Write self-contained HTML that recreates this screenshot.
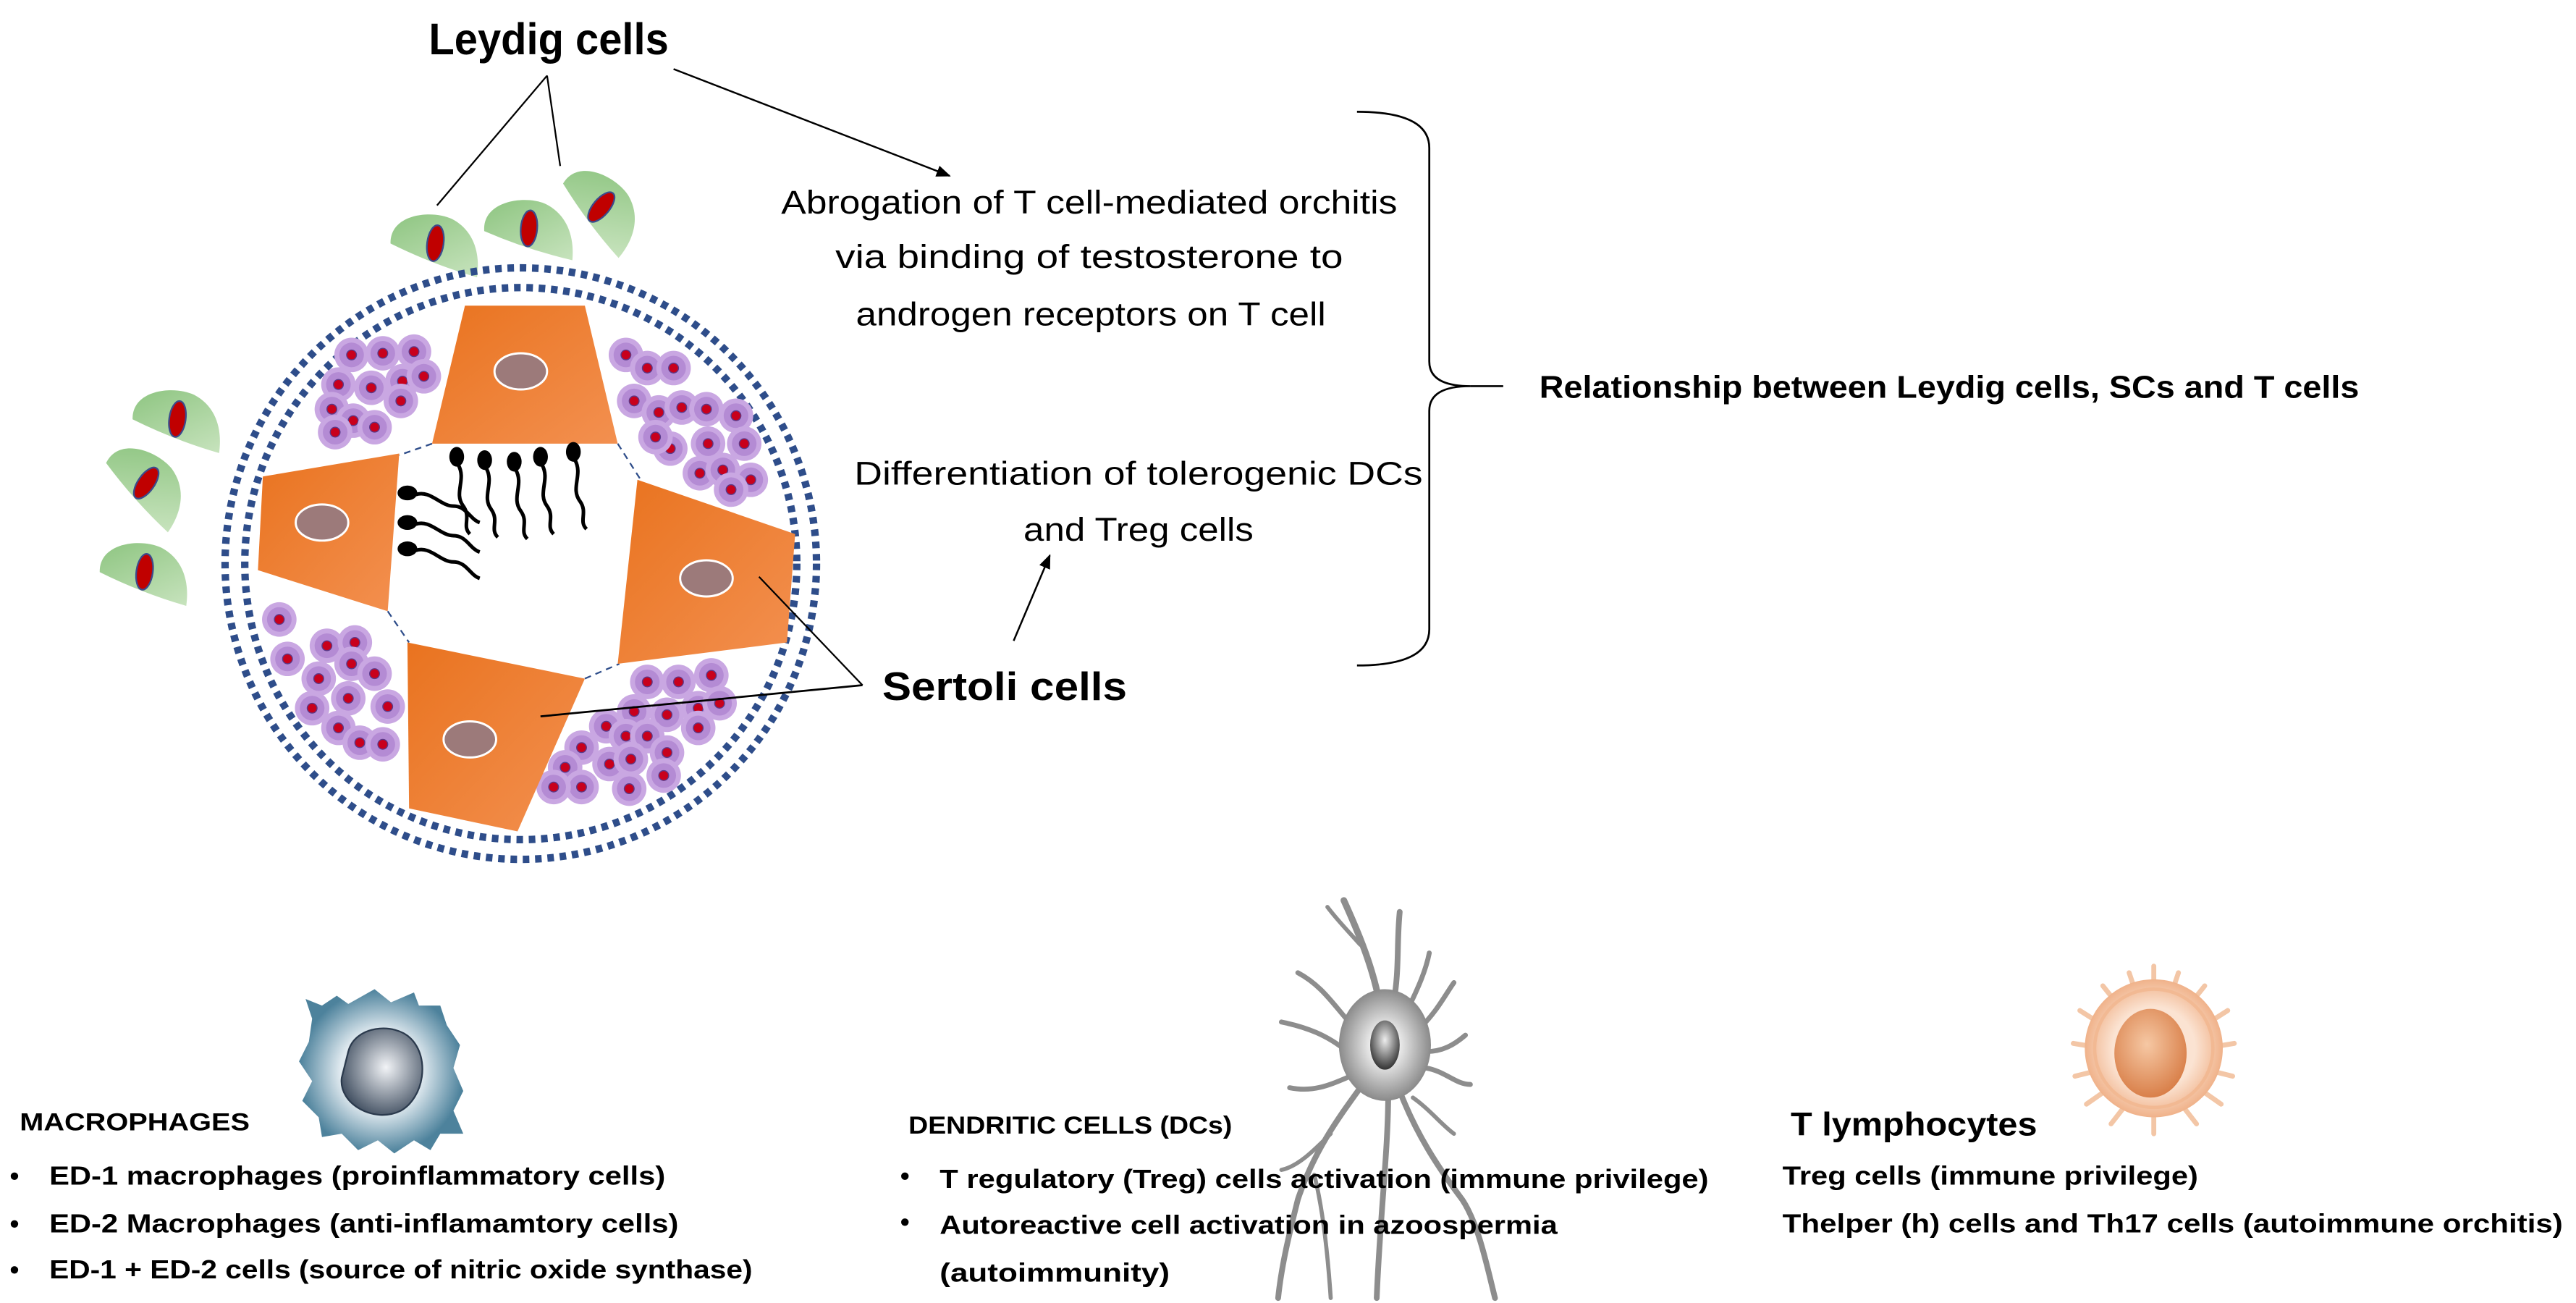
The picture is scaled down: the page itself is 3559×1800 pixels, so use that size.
<!DOCTYPE html>
<html><head><meta charset="utf-8"><style>
html,body{margin:0;padding:0;background:#fff;}
svg{display:block;}
text{font-family:"Liberation Sans",sans-serif;fill:#000;}
</style></head><body>
<svg width="3559" height="1800" viewBox="0 0 1568 793" xmlns="http://www.w3.org/2000/svg">
<defs>
<linearGradient id="org" x1="0" y1="0" x2="1" y2="1"><stop offset="0" stop-color="#e9731f"/><stop offset="1" stop-color="#f39050"/></linearGradient>
<linearGradient id="grn" x1="0" y1="0" x2="1" y2="1"><stop offset="0" stop-color="#8cc47f"/><stop offset="1" stop-color="#c7e3bd"/></linearGradient>
<radialGradient id="mac" cx="0.5" cy="0.5" r="0.5"><stop offset="0.5" stop-color="#dfe9ef"/><stop offset="1" stop-color="#4d829c"/></radialGradient>
<radialGradient id="macn" cx="0.55" cy="0.45" r="0.6"><stop offset="0" stop-color="#f2f4f7"/><stop offset="1" stop-color="#3f4d5f"/></radialGradient>
<radialGradient id="dc" cx="0.5" cy="0.5" r="0.5"><stop offset="0.3" stop-color="#eeeeee"/><stop offset="1" stop-color="#8a8a8a"/></radialGradient>
<radialGradient id="dcn" cx="0.5" cy="0.4" r="0.6"><stop offset="0" stop-color="#eeeeee"/><stop offset="1" stop-color="#333"/></radialGradient>
<radialGradient id="tc" cx="0.5" cy="0.5" r="0.5"><stop offset="0.6" stop-color="#fbe3d2"/><stop offset="1" stop-color="#f0b28a"/></radialGradient>
<radialGradient id="tcn" cx="0.45" cy="0.4" r="0.6"><stop offset="0" stop-color="#f6c8a4"/><stop offset="1" stop-color="#d9804a"/></radialGradient>
<marker id="ar" viewBox="0 0 10 10" refX="9" refY="5" markerWidth="8" markerHeight="8" orient="auto"><path d="M0,1 L10,5 L0,9 Z" fill="#000"/></marker>
<g id="ley"><path d="M-27,4 C-30,-14 -5,-20 8,-16 C22,-11 28,2 28,17 Q0,13 -27,4 Z" fill="url(#grn)"/><ellipse cx="0" cy="0" rx="5" ry="11" fill="#c00000" stroke="#3b4b8c" stroke-width="1"/></g>
<g id="pc"><circle r="10.5" fill="#c9a7e2"/><circle r="7.5" fill="#b48bd4"/><circle r="3" fill="#c8001c" stroke="#5a3a8a" stroke-width="0.6"/></g>
<g id="sp"><ellipse cx="0" cy="0" rx="4.5" ry="6" fill="#000"/><path d="M1,5 C6,14 -2,22 4,30 C9,37 3,42 8,47" fill="none" stroke="#000" stroke-width="2.2"/></g>
<g id="sp2"><ellipse cx="0" cy="0" rx="6" ry="4.5" fill="#000"/><path d="M5,1 C14,-2 20,8 28,8 C36,8 38,16 44,18" fill="none" stroke="#000" stroke-width="2.2"/></g>
</defs>

<text x="261" y="33" font-weight="bold" font-size="27" textLength="146" lengthAdjust="spacingAndGlyphs">Leydig cells</text>
<line x1="333" y1="46" x2="266" y2="125" stroke="#000" stroke-width="1"/>
<line x1="333" y1="46" x2="341" y2="101" stroke="#000" stroke-width="1"/>
<line x1="410" y1="42" x2="578" y2="107" stroke="#000" stroke-width="1.1" marker-end="url(#ar)"/>

<use href="#ley" transform="translate(265,148) rotate(8)"/>
<use href="#ley" transform="translate(322,139) rotate(5)"/>
<use href="#ley" transform="translate(366,126) rotate(40)"/>
<use href="#ley" transform="translate(108,255) rotate(8)"/>
<use href="#ley" transform="translate(89,294) rotate(35)"/>
<use href="#ley" transform="translate(88,348) rotate(8)"/>

<circle cx="317" cy="343" r="180" fill="none" stroke="#2e4d8a" stroke-width="4.5" stroke-dasharray="4 3.5"/>
<circle cx="317" cy="343" r="168" fill="none" stroke="#2e4d8a" stroke-width="4.5" stroke-dasharray="4 3.5"/>

<g>
<use href="#pc" x="214" y="216"/><use href="#pc" x="233" y="215"/><use href="#pc" x="252" y="214"/><use href="#pc" x="206" y="234"/><use href="#pc" x="226" y="236"/><use href="#pc" x="245" y="232"/><use href="#pc" x="258" y="229"/><use href="#pc" x="202" y="249"/><use href="#pc" x="215" y="256"/><use href="#pc" x="228" y="260"/><use href="#pc" x="244" y="244"/><use href="#pc" x="204" y="263"/>
<use href="#pc" x="381" y="216"/><use href="#pc" x="394" y="224"/><use href="#pc" x="410" y="224"/><use href="#pc" x="386" y="244"/><use href="#pc" x="401" y="251"/><use href="#pc" x="415" y="248"/><use href="#pc" x="430" y="249"/><use href="#pc" x="448" y="253"/><use href="#pc" x="408" y="273"/><use href="#pc" x="431" y="270"/><use href="#pc" x="453" y="270"/><use href="#pc" x="426" y="288"/><use href="#pc" x="440" y="286"/><use href="#pc" x="457" y="292"/><use href="#pc" x="445" y="298"/><use href="#pc" x="399" y="266"/>
<use href="#pc" x="170" y="377"/><use href="#pc" x="175" y="401"/><use href="#pc" x="199" y="393"/><use href="#pc" x="216" y="391"/><use href="#pc" x="194" y="413"/><use href="#pc" x="214" y="404"/><use href="#pc" x="228" y="410"/><use href="#pc" x="190" y="431"/><use href="#pc" x="212" y="425"/><use href="#pc" x="236" y="430"/><use href="#pc" x="206" y="443"/><use href="#pc" x="219" y="452"/><use href="#pc" x="233" y="453"/>
<use href="#pc" x="394" y="415"/><use href="#pc" x="413" y="415"/><use href="#pc" x="433" y="411"/><use href="#pc" x="386" y="433"/><use href="#pc" x="406" y="435"/><use href="#pc" x="425" y="431"/><use href="#pc" x="438" y="428"/><use href="#pc" x="369" y="442"/><use href="#pc" x="381" y="448"/><use href="#pc" x="394" y="448"/><use href="#pc" x="425" y="443"/><use href="#pc" x="354" y="455"/><use href="#pc" x="371" y="465"/><use href="#pc" x="384" y="462"/><use href="#pc" x="406" y="458"/><use href="#pc" x="344" y="467"/><use href="#pc" x="354" y="479"/><use href="#pc" x="383" y="480"/><use href="#pc" x="404" y="472"/><use href="#pc" x="337" y="479"/>
</g>

<g stroke="#2e4d8a" stroke-width="1" stroke-dasharray="4 3" fill="none">
<line x1="263" y1="270" x2="243" y2="277"/>
<line x1="376" y1="270" x2="390" y2="292"/>
<line x1="236" y1="372" x2="249" y2="391"/>
<line x1="356" y1="413" x2="377" y2="404"/>
</g>

<polygon points="283,186 356,186 376,270 263,270" fill="url(#org)"/>
<polygon points="160,290 243,276 236,372 157,347" fill="url(#org)"/>
<polygon points="388,292 484,325 479,391 376,404" fill="url(#org)"/>
<polygon points="248,391 356,413 315,506 249,492" fill="url(#org)"/>
<g fill="#9c7a7a" stroke="#fff" stroke-width="1.3">
<ellipse cx="317" cy="226" rx="16" ry="11"/>
<ellipse cx="196" cy="318" rx="16" ry="11"/>
<ellipse cx="430" cy="352" rx="16" ry="11"/>
<ellipse cx="286" cy="450" rx="16" ry="11"/>
</g>

<use href="#sp" x="278" y="278"/><use href="#sp" x="295" y="280"/><use href="#sp" x="313" y="281"/><use href="#sp" x="329" y="278"/><use href="#sp" x="349" y="275"/>
<use href="#sp2" x="248" y="300"/><use href="#sp2" x="248" y="318"/><use href="#sp2" x="248" y="334"/>

<line x1="525" y1="417" x2="462" y2="351" stroke="#000" stroke-width="1"/>
<line x1="525" y1="417" x2="329" y2="436" stroke="#000" stroke-width="1.2"/>
<text x="537" y="426" font-weight="bold" font-size="24" textLength="149" lengthAdjust="spacingAndGlyphs">Sertoli cells</text>

<g font-size="20" text-anchor="middle">
<text x="663" y="130" textLength="375" lengthAdjust="spacingAndGlyphs">Abrogation of T cell-mediated orchitis</text>
<text x="663" y="163" textLength="309" lengthAdjust="spacingAndGlyphs">via binding of testosterone to</text>
<text x="664" y="198" textLength="286" lengthAdjust="spacingAndGlyphs">androgen receptors on T cell</text>
<text x="693" y="295" textLength="346" lengthAdjust="spacingAndGlyphs">Differentiation of tolerogenic DCs</text>
<text x="693" y="329" textLength="140" lengthAdjust="spacingAndGlyphs">and Treg cells</text>
</g>
<line x1="617" y1="390" x2="639" y2="338" stroke="#000" stroke-width="1.1" marker-end="url(#ar)"/>

<path d="M826,68 Q870,68 870,90 L870,220 Q870,235 895,235 Q870,235 870,250 L870,383 Q870,405 826,405" fill="none" stroke="#000" stroke-width="1.2"/>
<line x1="895" y1="235" x2="915" y2="235" stroke="#000" stroke-width="1.2"/>
<text x="937" y="242" font-weight="bold" font-size="19" textLength="499" lengthAdjust="spacingAndGlyphs">Relationship between Leydig cells, SCs and T cells</text>

<path d="M190,620 L186,608 L196,612 L205,606 L212,611 L228,602 L238,610 L252,604 L255,612 L268,612 L272,624 L280,636 L276,650 L282,664 L276,676 L282,690 L268,690 L262,700 L252,694 L240,702 L230,694 L218,700 L208,690 L196,692 L194,680 L184,670 L190,658 L182,646 L188,634 Z" fill="url(#mac)"/>
<path d="M212,640 C216,624 240,622 250,632 C262,644 258,668 244,676 C228,684 206,672 208,656 Z" fill="url(#macn)" stroke="#2b3a4d" stroke-width="1"/>

<g stroke="#8d8d8d" fill="none" stroke-linecap="round">
<path d="M840,612 C836,590 828,570 818,548" stroke-width="4"/>
<path d="M828,575 C820,566 814,560 808,552" stroke-width="2.5"/>
<path d="M848,612 C852,590 850,575 852,555" stroke-width="3.5"/>
<path d="M855,618 C864,600 868,590 870,580" stroke-width="3"/>
<path d="M865,625 C875,615 880,605 885,598" stroke-width="3"/>
<path d="M823,624 C812,612 805,600 790,592" stroke-width="3"/>
<path d="M820,640 C808,630 795,625 780,622" stroke-width="3"/>
<path d="M868,640 C878,640 885,636 892,630" stroke-width="3"/>
<path d="M868,650 C880,652 886,660 895,660" stroke-width="3"/>
<path d="M822,655 C810,660 800,665 785,662" stroke-width="3"/>
<path d="M828,662 C815,680 800,700 790,730 C785,750 780,770 778,790" stroke-width="3.5"/>
<path d="M810,690 C800,700 790,710 780,712" stroke-width="2.5"/>
<path d="M800,715 C805,735 808,760 810,790" stroke-width="2.5"/>
<path d="M845,666 C845,700 840,740 838,790" stroke-width="3.5"/>
<path d="M852,664 C862,690 875,710 890,730 C900,745 905,770 910,790" stroke-width="3.5"/>
<path d="M860,668 C870,675 878,685 885,690" stroke-width="2.5"/>
</g>
<ellipse cx="843" cy="636" rx="28" ry="34" fill="url(#dc)"/>
<ellipse cx="843" cy="636" rx="9" ry="15" fill="url(#dcn)"/>

<g stroke="#f3c6a6" stroke-width="3" fill="none" stroke-linecap="round">
<path d="M1311,588 L1311,600 M1296,592 L1300,604 M1326,592 L1322,604 M1280,600 L1288,610 M1342,600 L1334,610 M1266,615 L1277,622 M1356,615 L1345,622 M1262,635 L1274,637 M1360,635 L1348,637 M1263,655 L1275,652 M1359,655 L1347,652 M1270,672 L1280,665 M1352,672 L1342,665 M1285,684 L1292,675 M1337,684 L1330,675 M1311,690 L1311,680"/>
</g>
<circle cx="1311" cy="638" r="42" fill="url(#tc)"/>
<circle cx="1311" cy="638" r="36" fill="none" stroke="#f2b993" stroke-width="2"/>
<ellipse cx="1309" cy="641" rx="22" ry="27" fill="url(#tcn)"/>

<g font-weight="bold">
<text x="12" y="688" font-size="15" textLength="140" lengthAdjust="spacingAndGlyphs">MACROPHAGES</text>
<text x="553" y="690" font-size="15" textLength="197" lengthAdjust="spacingAndGlyphs">DENDRITIC CELLS (DCs)</text>
<text x="1090" y="691" font-size="20" textLength="150" lengthAdjust="spacingAndGlyphs">T lymphocytes</text>
<g font-size="16">
<text x="6" y="721">•</text><text x="30" y="721" textLength="375" lengthAdjust="spacingAndGlyphs">ED-1 macrophages (proinflammatory cells)</text>
<text x="6" y="750">•</text><text x="30" y="750" textLength="383" lengthAdjust="spacingAndGlyphs">ED-2 Macrophages (anti-inflamamtory cells)</text>
<text x="6" y="778">•</text><text x="30" y="778" textLength="428" lengthAdjust="spacingAndGlyphs">ED-1 + ED-2 cells (source of nitric oxide synthase)</text>
<text x="548" y="721">•</text><text x="572" y="723" textLength="468" lengthAdjust="spacingAndGlyphs">T regulatory (Treg) cells activation (immune privilege)</text>
<text x="548" y="749">•</text><text x="572" y="751" textLength="376" lengthAdjust="spacingAndGlyphs">Autoreactive cell activation in azoospermia</text>
<text x="572" y="780" textLength="140" lengthAdjust="spacingAndGlyphs">(autoimmunity)</text>
<text x="1085" y="721" textLength="253" lengthAdjust="spacingAndGlyphs">Treg cells (immune privilege)</text>
<text x="1085" y="750" textLength="475" lengthAdjust="spacingAndGlyphs">Thelper (h) cells and Th17 cells  (autoimmune orchitis)</text>
</g>
</g>
</svg>
</body></html>
